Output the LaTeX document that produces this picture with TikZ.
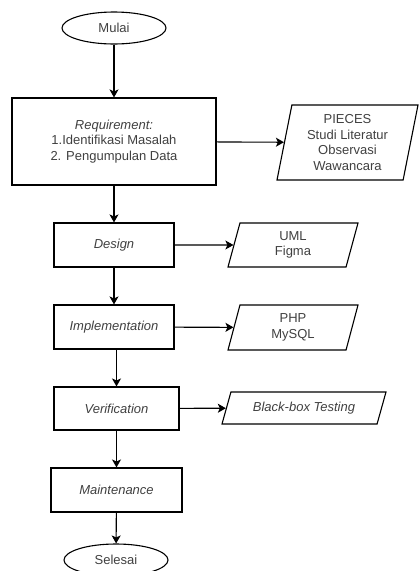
\documentclass[tikz,border=0pt]{standalone}
\usepackage{fontspec}
\setmainfont{Liberation Sans}
\usetikzlibrary{shapes.geometric,arrows.meta}

\begin{document}
\begin{tikzpicture}[x=1pt,y=-1pt,
  font=\fontsize{13}{15.5}\selectfont, text=black!75,
  line width=1.1pt, >={Stealth[length=8pt,width=9pt,inset=2pt]},
  terminal/.style={ellipse,draw,minimum width=104pt,minimum height=32pt,inner sep=0pt},
  process/.style={rectangle,draw,align=center,inner sep=2pt},
  io/.style={trapezium,draw,align=center,inner sep=2pt,
    trapezium left angle=#1,trapezium right angle=180-#1,
    trapezium stretches body}]

  \useasboundingbox (0,0) rectangle (419,571);

  % alur utama
  \node[terminal] (mulai) at (114,28) {Mulai};
  \node[process,minimum width=204pt,minimum height=87pt] (req) at (114,141.5)
    {\textit{Requirement:}\\1.Identifikasi Masalah\\2. Pengumpulan Data};
  \node[process,minimum width=120pt,minimum height=44pt] (design) at (114,245) {\textit{Design}};
  \node[process,minimum width=120pt,minimum height=44pt] (impl) at (114,327) {\textit{Implementation}};
  \node[process,minimum width=125pt,minimum height=43pt] (verif) at (116.5,408.5) {\textit{Verification}};
  \node[process,minimum width=131pt,minimum height=44pt] (maint) at (116.5,490) {\textit{Maintenance}};
  \node[terminal] (selesai) at (116,560) {Selesai};

  % masukan / keluaran
  \node[io=76,minimum width=141pt,minimum height=75pt] (pieces) at (347.5,142.5)
    {PIECES\\Studi Literatur\\Observasi\\Wawancara};
  \node[io=69,minimum width=130pt,minimum height=44pt] (uml) at (293,245) {UML\\Figma};
  \node[io=69,minimum width=130pt,minimum height=45pt] (php) at (293,327.5) {PHP\\MySQL};
  \node[io=61,minimum width=164pt,minimum height=32pt] (blackbox) at (304,408) {\textit{Black-box Testing}};

  \draw[->] (mulai) -- (req);
  \draw[->] (req) -- (design);
  \draw[->] (design) -- (impl);
  \draw[->] (verif.north |- impl.south) -- (verif);
  \draw[->] (verif) -- (maint);
  \draw[->] (maint) -- (selesai);

  \draw[->] (req) -- (pieces);
  \draw[->] (design) -- (uml);
  \draw[->] (impl) -- (php);
  \draw[->] (verif) -- (blackbox);
\end{tikzpicture}
\end{document}
